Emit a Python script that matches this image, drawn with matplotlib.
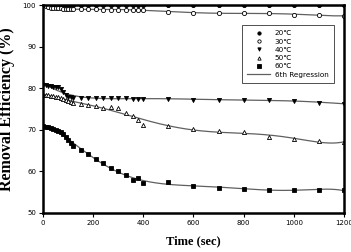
import numpy as np
import matplotlib
matplotlib.use("Agg")
import matplotlib.pyplot as plt

# temps de prélèvement (s)
t = [0, 10, 20, 30, 40, 50, 60, 70, 80, 90, 100, 110, 120, 150, 180, 210, 240,
     270, 300, 330, 360, 380, 400, 500, 600, 700, 800, 900, 1000, 1100, 1200]

# rendement d'élimination (%) par température
e20 = [100.0] * 31
e30 = [100.0, 99.8, 99.6, 99.4, 99.3, 99.2, 99.2, 99.2, 99.1, 99.1, 99.1, 99.1, 99.0, 99.0, 99.0, 99.0,
       98.9, 98.9, 98.9, 98.9, 98.8, 98.8, 98.8, 98.4, 98.2, 98.0, 98.0, 98.0, 97.7, 97.6, 97.4]
e40 = [80.8, 80.7, 80.6, 80.5, 80.4, 80.3, 80.2, 79.8, 79.0, 78.3, 77.9, 77.8, 77.7, 77.7, 77.7, 77.7,
       77.7, 77.6, 77.6, 77.6, 77.5, 77.5, 77.5, 77.4, 77.2, 77.2, 77.2, 77.1, 77.0, 76.5, 76.3]
e50 = [78.4, 78.4, 78.3, 78.2, 78.1, 78.0, 77.8, 77.6, 77.4, 77.2, 76.9, 76.6, 76.4, 76.2, 76.0, 75.6,
       75.2, 75.4, 75.2, 74.0, 73.2, 72.3, 71.2, 70.8, 70.2, 69.8, 69.4, 68.2, 67.8, 67.4, 67.0]
e60 = [70.8, 70.7, 70.6, 70.5, 70.3, 70.0, 69.8, 69.4, 68.9, 68.3, 67.6, 66.9, 66.1, 65.1, 64.2, 63.0,
       62.0, 60.9, 60.0, 59.2, 58.0, 58.4, 57.2, 57.4, 56.4, 56.0, 55.8, 55.6, 55.6, 55.5, 55.4]

labels = ["20\u2103", "30\u2103", "40\u2103", "50\u2103", "60\u2103"]
series = [e20, e30, e40, e50, e60]
# (marker, couleur de remplissage)
styles = [("o", "black"), ("o", "white"), ("v", "black"), ("^", "white"), ("s", "black")]

fig = plt.figure(figsize=(3.51, 2.52), dpi=100)
ax = fig.add_axes([0.1225, 0.155, 0.8575, 0.825])

tt = np.linspace(0, 1200, 400)
for y, lab, (m, fc) in zip(series, labels, styles):
    # régression polynomiale d'ordre 6
    p = np.polynomial.Polynomial.fit(t, y, 6)
    ax.plot(tt, p(tt), color="#606060", lw=0.9, zorder=2)
    ax.plot(t, y, ls="none", marker=m, ms=3.0, mfc=fc, mec="black", mew=0.6,
            label=lab, zorder=3)
ax.plot([], [], color="#606060", lw=0.9, label="6th Regression")

ax.set_xlim(0, 1200)
ax.set_ylim(50, 100)
ax.set_xticks(range(0, 1201, 200))
ax.set_yticks(range(50, 101, 10))
ax.tick_params(labelsize=5, length=3, width=0.8, direction="out", pad=2)
for s in ax.spines.values():
    s.set_linewidth(1.8)
    s.set_zorder(4)

ax.set_xlabel("Time (sec)", family="Liberation Serif", fontweight="bold", fontsize=9, labelpad=7)
ax.set_ylabel("Removal Efficiency (%)", family="Liberation Serif", fontweight="bold",
              fontsize=11.5)
ax.yaxis.set_label_coords(-0.093, 0.5)

leg = ax.legend(loc="upper right", bbox_to_anchor=(0.98, 0.923), fontsize=5.2,
                fancybox=False, edgecolor="#333333", framealpha=1, handlelength=3.2,
                handletextpad=0.6, markerscale=0.8, labelspacing=0.3, borderpad=0.8)
leg.get_frame().set_linewidth(0.6)

fig.savefig("out.png", dpi=100)
